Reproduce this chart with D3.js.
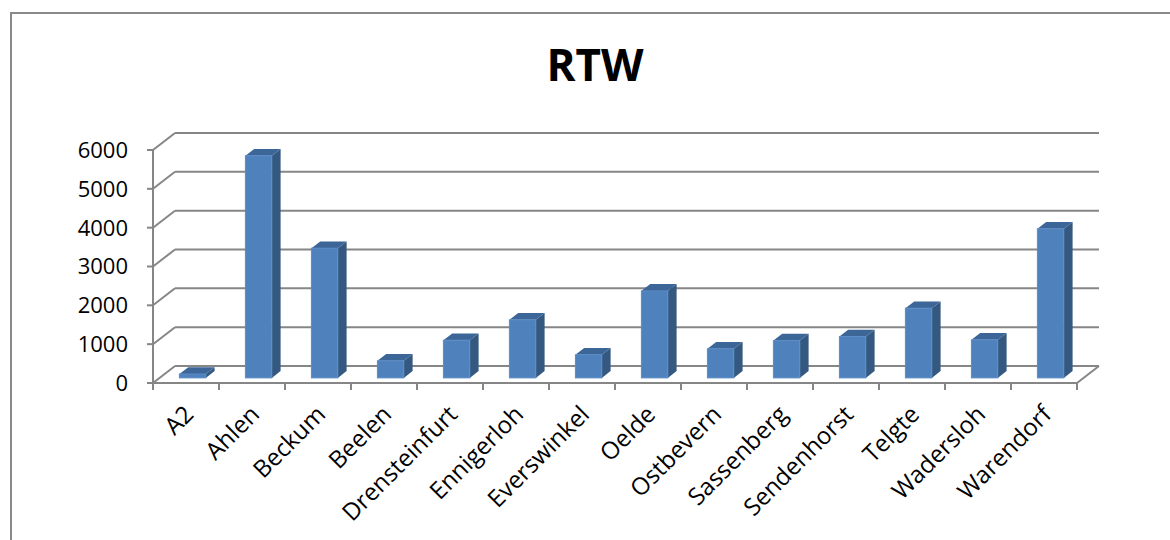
<!DOCTYPE html>
<html>
<head>
<meta charset="utf-8">
<script src="https://cdn.jsdelivr.net/npm/d3@7"></script>
<style>
  body { margin: 0; background: #fff; }
  text { font-family: "Open Sans", sans-serif; fill: #000; }
</style>
</head>
<body>
<div id="chart"></div>
<script>
var svgWidth = 1170;
var svgHeight = 540;

// data
var towns = ["A2", "Ahlen", "Beckum", "Beelen", "Drensteinfurt", "Ennigerloh", "Everswinkel",
    "Oelde", "Ostbevern", "Sassenberg", "Sendenhorst", "Telgte", "Wadersloh", "Warendorf"];
var counts = [100, 5720, 3340, 440, 970, 1495, 595, 2240, 750, 960, 1065, 1795, 980, 3840];
var yTicks = [0, 1000, 2000, 3000, 4000, 5000, 6000];

// 3d depth vector
var depthX = 22, depthY = -17;
var gridColor = "#868686";

var svg = d3.select("#chart")
    .append("svg")
    .attr("width", svgWidth)
    .attr("height", svgHeight);

// outer frame
svg.append("rect")
    .attr("x", 11).attr("y", 13)
    .attr("width", svgWidth + 20).attr("height", svgHeight + 20)
    .attr("fill", "none")
    .attr("stroke", "#898989")
    .attr("stroke-width", 2);

svg.append("text")
    .attr("x", 595).attr("y", 81)
    .attr("text-anchor", "middle")
    .style("font-size", "44px")
    .style("font-weight", "bold")
    .text("RTW");

var xScale = d3.scaleBand()
    .domain(towns)
    .range([153, 1077])
    .padding(0);

var yScale = d3.scaleLinear()
    .domain([0, 6000])
    .range([383, 150]);

var x0 = xScale.range()[0], x1 = xScale.range()[1];

// back wall gridlines
svg.append("g").selectAll("line.back")
    .data(yTicks)
    .enter()
    .append("line")
    .attr("x1", x0 + depthX).attr("x2", x1 + depthX)
    .attr("y1", d => yScale(d) + depthY).attr("y2", d => yScale(d) + depthY)
    .attr("stroke", gridColor).attr("stroke-width", 2);

// side wall diagonals
svg.append("g").selectAll("line.side")
    .data(yTicks)
    .enter()
    .append("line")
    .attr("x1", x0).attr("x2", x0 + depthX)
    .attr("y1", d => yScale(d)).attr("y2", d => yScale(d) + depthY)
    .attr("stroke", gridColor).attr("stroke-width", 2);

// floor: front edge and right diagonal
svg.append("line")
    .attr("x1", x0).attr("x2", x1)
    .attr("y1", yScale(0)).attr("y2", yScale(0))
    .attr("stroke", gridColor).attr("stroke-width", 2);
svg.append("line")
    .attr("x1", x1).attr("x2", x1 + depthX)
    .attr("y1", yScale(0)).attr("y2", yScale(0) + depthY)
    .attr("stroke", gridColor).attr("stroke-width", 2);

// vertical axis
svg.append("line")
    .attr("x1", x0).attr("x2", x0)
    .attr("y1", yScale(0) + 1).attr("y2", yScale(6000))
    .attr("stroke", gridColor).attr("stroke-width", 2);

// y ticks + labels
svg.append("g").selectAll("line")
    .data(yTicks)
    .enter()
    .append("line")
    .attr("x1", x0 - 6).attr("x2", x0)
    .attr("y1", d => yScale(d)).attr("y2", d => yScale(d))
    .attr("stroke", gridColor).attr("stroke-width", 2);

svg.append("g").selectAll("text")
    .data(yTicks)
    .enter()
    .append("text")
    .attr("x", 128)
    .attr("y", d => yScale(d))
    .attr("dy", "0.36em")
    .attr("text-anchor", "end")
    .style("font-size", "22px")
    .text(d => d);

// x ticks at category boundaries
var bounds = towns.map(d => xScale(d)).concat([x1]);
svg.append("g").selectAll("line")
    .data(bounds)
    .enter()
    .append("line")
    .attr("x1", d => d).attr("x2", d => d)
    .attr("y1", yScale(0)).attr("y2", yScale(0) + 7)
    .attr("stroke", gridColor).attr("stroke-width", 2);

// bars (front at 30% depth, back at 70%)
var bw = xScale.bandwidth() * 0.4;
var fz = 0.3, dz = 0.4;
var bars = svg.append("g").selectAll("g")
    .data(towns.map((t, i) => ({ town: t, value: counts[i] })))
    .enter()
    .append("g");

function bx(d) { return xScale(d.town) + (xScale.bandwidth() - bw) / 2 + fz * depthX; }
function by(v) { return yScale(v) + fz * depthY; }
var sx = dz * depthX, sy = dz * depthY;

// side face
bars.append("path")
    .attr("d", d => {
        var x = bx(d) + bw, yt = by(d.value), yb = by(0);
        return `M${x},${yb}L${x},${yt}L${x + sx},${yt + sy}L${x + sx},${yb + sy}Z`;
    })
    .attr("fill", "#34587f");

// top face
bars.append("path")
    .attr("d", d => {
        var x = bx(d), yt = by(d.value);
        return `M${x},${yt}L${x + sx},${yt + sy}L${x + bw + sx},${yt + sy}L${x + bw},${yt}Z`;
    })
    .attr("fill", "#3c6598");

// front face
bars.append("rect")
    .attr("x", d => bx(d))
    .attr("y", d => by(d.value))
    .attr("width", bw)
    .attr("height", d => by(0) - by(d.value))
    .attr("fill", "#4f81bd")
    .attr("stroke", "#5b8cc6")
    .attr("stroke-width", 1);

// category labels
svg.append("g").selectAll("text")
    .data(towns)
    .enter()
    .append("text")
    .attr("transform", d => `translate(${xScale(d) + xScale.bandwidth() / 2 - 3}, 404) rotate(-45)`)
    .attr("text-anchor", "end")
    .attr("dy", "0.7em")
    .style("font-size", "24px")
    .text(d => d);
</script>
</body>
</html>
